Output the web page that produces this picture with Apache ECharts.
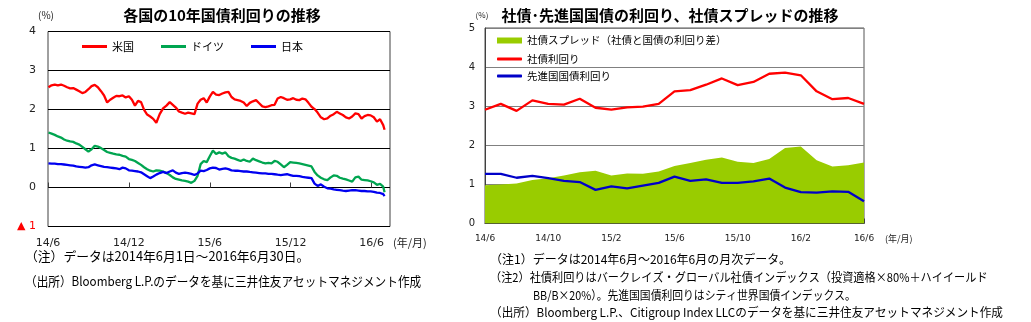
<!DOCTYPE html>
<html>
<head>
<meta charset="utf-8">
<script src="https://cdn.jsdelivr.net/npm/echarts@6/dist/echarts.min.js"></script>
<style>
html,body{margin:0;padding:0;background:#fff;}
#c{width:1031px;height:322px;}
</style>
</head>
<body>
<div id="c"></div>
<script>
// ---- Left panel: 10-year government bond yields, weekly closes (%) ----
const firstWeek = '2014-06-02';   // weekly observations every 7 days
const lastDay = '2016-06-30';     // final observation
const leftTicks = ['14/6', '14/12', '15/6', '15/12', '16/6'];
const seriesNamesLeft = ['米国', 'ドイツ', '日本'];

const usYield = [
  2.57, 2.62, 2.64, 2.62, 2.64, 2.61, 2.57, 2.54, 2.55, 2.51,
  2.47, 2.42, 2.45, 2.52, 2.60, 2.63, 2.57, 2.47, 2.36, 2.18,
  2.25, 2.30, 2.35, 2.34, 2.36, 2.31, 2.34, 2.25, 2.10, 2.22,
  2.19, 1.99, 1.87, 1.82, 1.76, 1.66, 1.88, 2.03, 2.10, 2.19,
  2.12, 2.05, 1.95, 1.92, 1.89, 1.92, 1.90, 1.88, 2.15, 2.25,
  2.29, 2.18, 2.33, 2.45, 2.38, 2.37, 2.41, 2.44, 2.45, 2.32,
  2.26, 2.24, 2.22, 2.18, 2.09, 2.17, 2.21, 2.24, 2.16, 2.08,
  2.06, 2.08, 2.11, 2.12, 2.28, 2.32, 2.29, 2.25, 2.26, 2.29,
  2.25, 2.24, 2.28, 2.26, 2.17, 2.07, 2.01, 1.92, 1.80, 1.75,
  1.77, 1.84, 1.88, 1.94, 1.90, 1.86, 1.80, 1.77, 1.82, 1.90,
  1.88, 1.77, 1.83, 1.86, 1.85, 1.80, 1.69, 1.75, 1.60,
  1.48
];
const deYield = [
  1.41, 1.38, 1.35, 1.31, 1.28, 1.23, 1.20, 1.18, 1.17, 1.13,
  1.10, 1.04, 0.98, 0.92, 0.98, 1.07, 1.05, 1.01, 0.96, 0.91,
  0.89, 0.87, 0.85, 0.84, 0.81, 0.79, 0.73, 0.71, 0.68, 0.63,
  0.58, 0.52, 0.47, 0.43, 0.41, 0.44, 0.43, 0.41, 0.37, 0.32,
  0.26, 0.22, 0.20, 0.18, 0.17, 0.15, 0.12, 0.17, 0.30, 0.60,
  0.68, 0.65, 0.80, 0.95, 0.86, 0.90, 0.87, 0.90, 0.80, 0.76,
  0.74, 0.71, 0.68, 0.72, 0.68, 0.66, 0.74, 0.70, 0.67, 0.64,
  0.62, 0.63, 0.62, 0.68, 0.66, 0.59, 0.52, 0.58, 0.65, 0.64,
  0.63, 0.62, 0.60, 0.58, 0.56, 0.54, 0.40, 0.31, 0.25, 0.21,
  0.19, 0.26, 0.31, 0.30, 0.25, 0.23, 0.21, 0.18, 0.15, 0.26,
  0.28, 0.20, 0.19, 0.18, 0.16, 0.13, 0.07, 0.09, 0.02,
  -0.12
];
const jpYield = [
  0.62, 0.61, 0.61, 0.60, 0.60, 0.59, 0.58, 0.57, 0.56, 0.54,
  0.53, 0.52, 0.51, 0.52, 0.57, 0.59, 0.57, 0.55, 0.53, 0.52,
  0.51, 0.50, 0.49, 0.47, 0.51, 0.49, 0.44, 0.43, 0.42, 0.41,
  0.39, 0.34, 0.29, 0.24, 0.28, 0.33, 0.37, 0.40, 0.37, 0.41,
  0.44, 0.38, 0.35, 0.37, 0.38, 0.37, 0.35, 0.32, 0.36, 0.43,
  0.42, 0.45, 0.49, 0.51, 0.50, 0.46, 0.48, 0.49, 0.47, 0.44,
  0.43, 0.43, 0.42, 0.41, 0.41, 0.40, 0.39, 0.38, 0.37, 0.36,
  0.36, 0.35, 0.35, 0.34, 0.33, 0.32, 0.33, 0.34, 0.32, 0.30,
  0.30, 0.29, 0.27, 0.26, 0.25, 0.24, 0.10, 0.04, 0.08, 0.02,
  -0.02, -0.03, -0.05, -0.06, -0.07, -0.08, -0.09, -0.08, -0.07, -0.07,
  -0.08, -0.09, -0.09, -0.10, -0.10, -0.11, -0.13, -0.14, -0.17,
  -0.22
];

// ---- Right panel: monthly corporate / developed-government yields and spread (%) ----
const months = [
  '14/6', '14/7', '14/8', '14/9', '14/10', '14/11', '14/12', '15/1', '15/2', '15/3',
  '15/4', '15/5', '15/6', '15/7', '15/8', '15/9', '15/10', '15/11', '15/12', '16/1',
  '16/2', '16/3', '16/4', '16/5', '16/6'
];
const corpYield = [
  2.91, 3.06, 2.88, 3.15, 3.06, 3.04, 3.19, 2.96, 2.91, 2.97,
  2.99, 3.06, 3.38, 3.41, 3.55, 3.71, 3.54, 3.62, 3.83, 3.86,
  3.79, 3.38, 3.18, 3.21, 3.06
];
const govYield = [
  1.27, 1.27, 1.17, 1.22, 1.16, 1.09, 1.06, 0.86, 0.95, 0.90,
  0.97, 1.04, 1.20, 1.09, 1.13, 1.04, 1.04, 1.08, 1.15, 0.92,
  0.80, 0.79, 0.82, 0.81, 0.57
];
const corpSpread = [
  0.98, 1.00, 1.02, 1.11, 1.16, 1.23, 1.31, 1.35, 1.23, 1.28,
  1.27, 1.33, 1.47, 1.55, 1.63, 1.69, 1.58, 1.55, 1.65, 1.93,
  1.97, 1.62, 1.46, 1.49, 1.56
];
const seriesNamesRight = ['社債スプレッド（社債と国債の利回り差）', '社債利回り', '先進国国債利回り'];

// ---- helpers ----
// position of a date on the left x axis, in months since 2014-06-01
function monthPos(iso) {
  const [y, m, d] = iso.split('-').map(Number);
  const dim = new Date(Date.UTC(y, m, 0)).getUTCDate();
  return (y - 2014) * 12 + (m - 6) + (d - 1) / dim;
}
function observationDates(count) {
  const start = Date.parse(firstWeek + 'T00:00:00Z');
  const out = [];
  for (let k = 0; k < count - 1; k++) {
    out.push(new Date(start + k * 7 * 86400000).toISOString().slice(0, 10));
  }
  out.push(lastDay);
  return out;
}
const obsDates = observationDates(usYield.length);
const pairs = arr => obsDates.map((d, i) => [monthPos(d), arr[i]]);

const jpFont = '"Noto Sans CJK JP", sans-serif';
const numFont = '"DejaVu Sans", sans-serif';

const chart = echarts.init(document.getElementById('c'), null, { renderer: 'canvas' });

const noteText = (text, x, y, size, sx) => ({
  type: 'text', x: x, y: y, scaleX: sx, silent: true,
  style: { text: text, font: size + 'px ' + jpFont, fill: '#000', textAlign: 'left', textVerticalAlign: 'middle' }
});

const option = {
  animation: false,
  backgroundColor: '#fff',
  grid: [
    { left: 48, top: 31.5, width: 342, height: 195, show: true, borderColor: '#404040', borderWidth: 1, backgroundColor: 'transparent' },
    { left: 485, top: 28, width: 379, height: 195.5, show: true, borderColor: '#555', borderWidth: 1, backgroundColor: 'transparent' }
  ],
  xAxis: [
    {
      gridIndex: 0, type: 'value', min: 0, max: 25.37, interval: 6,
      axisLine: { show: false },
      splitLine: { show: false },
      axisTick: { show: true, inside: true, length: 5, lineStyle: { color: '#404040' } },
      axisLabel: {
        margin: 11, fontSize: 11, fontFamily: numFont, color: '#222',
        showMaxLabel: false,
        formatter: v => (Math.abs(v % 6) < 1e-6 && v / 6 < leftTicks.length) ? leftTicks[Math.round(v / 6)] : ''
      }
    },
    {
      gridIndex: 1, type: 'category', data: months, boundaryGap: false,
      axisLine: { show: true, lineStyle: { color: '#404040' } },
      axisTick: { show: true, inside: true, interval: 3, length: 5, lineStyle: { color: '#404040' } },
      axisLabel: { interval: 3, margin: 11, fontSize: 9, fontFamily: numFont, color: '#222' },
      splitLine: { show: false }
    }
  ],
  yAxis: [
    {
      gridIndex: 0, type: 'value', min: -1, max: 4, interval: 1,
      axisLine: { show: false }, axisTick: { show: false },
      splitLine: { show: true, lineStyle: { color: '#000', width: 1 } },
      axisLabel: {
        margin: 12, fontSize: 11, fontFamily: numFont, color: '#222',
        formatter: v => v < 0 ? '{neg|▲ ' + (-v) + '}' : String(v),
        rich: { neg: { color: '#FF0000', fontSize: 11, fontFamily: numFont } }
      }
    },
    {
      gridIndex: 1, type: 'value', min: 0, max: 5, interval: 1,
      axisLine: { show: true, lineStyle: { color: '#404040' } }, axisTick: { show: false },
      splitLine: { show: true, lineStyle: { color: '#808080', width: 1 } },
      axisLabel: { margin: 10, fontSize: 10, fontFamily: numFont, color: '#222' }
    }
  ],
  legend: [
    {
      data: seriesNamesLeft, left: 82, top: 39.5, padding: 0, itemGap: 27,
      itemWidth: 25, itemHeight: 3, icon: 'rect', selectedMode: false,
      textStyle: { fontFamily: jpFont, fontSize: 11, color: '#000', lineHeight: 14 }
    },
    {
      data: [seriesNamesRight[0]], left: 497, top: 33.5, padding: 0,
      itemWidth: 25, itemHeight: 6, icon: 'rect', selectedMode: false,
      textStyle: { fontFamily: jpFont, fontSize: 10.5, color: '#000', lineHeight: 14 }
    },
    {
      data: [seriesNamesRight[1], seriesNamesRight[2]], orient: 'vertical', left: 497, top: 52, padding: 0, itemGap: 3,
      itemWidth: 25, itemHeight: 3, icon: 'roundRect', selectedMode: false,
      textStyle: { fontFamily: jpFont, fontSize: 10.5, color: '#000', lineHeight: 14 }
    }
  ],
  series: [
    {
      name: seriesNamesLeft[0], type: 'line', xAxisIndex: 0, yAxisIndex: 0, data: pairs(usYield),
      symbol: 'none', color: '#FF0000', lineStyle: { width: 2.3, color: '#FF0000' }
    },
    {
      name: seriesNamesLeft[1], type: 'line', xAxisIndex: 0, yAxisIndex: 0, data: pairs(deYield),
      symbol: 'none', color: '#00A550', lineStyle: { width: 2.3, color: '#00A550' }
    },
    {
      name: seriesNamesLeft[2], type: 'line', xAxisIndex: 0, yAxisIndex: 0, data: pairs(jpYield),
      symbol: 'none', color: '#0000F0', lineStyle: { width: 2.3, color: '#0000F0' }
    },
    {
      name: seriesNamesRight[0], type: 'line', xAxisIndex: 1, yAxisIndex: 1, data: corpSpread,
      symbol: 'none', color: '#99CC00', itemStyle: { color: '#99CC00' },
      lineStyle: { width: 0, color: '#99CC00' }, areaStyle: { color: '#99CC00', opacity: 1 }
    },
    {
      name: seriesNamesRight[1], type: 'line', xAxisIndex: 1, yAxisIndex: 1, data: corpYield,
      symbol: 'none', color: '#FF0000', lineStyle: { width: 2.3, color: '#FF0000' }
    },
    {
      name: seriesNamesRight[2], type: 'line', xAxisIndex: 1, yAxisIndex: 1, data: govYield,
      symbol: 'none', color: '#0000C8', lineStyle: { width: 2.3, color: '#0000C8' }
    }
  ],
  graphic: [
    { type: 'text', x: 222, y: 15, silent: true, style: { text: '各国の10年国債利回りの推移', font: 'bold 15px ' + jpFont, fill: '#000', textAlign: 'center', textVerticalAlign: 'middle' } },
    { type: 'text', x: 46, y: 15, silent: true, style: { text: '(%)', font: '10px ' + jpFont, fill: '#222', textAlign: 'center', textVerticalAlign: 'middle' } },
    { type: 'text', x: 670, y: 15, silent: true, style: { text: '社債･先進国国債の利回り、社債スプレッドの推移', font: 'bold 15px ' + jpFont, fill: '#000', textAlign: 'center', textVerticalAlign: 'middle' } },
    { type: 'text', x: 482, y: 15, silent: true, style: { text: '(%)', font: '8px ' + jpFont, fill: '#222', textAlign: 'center', textVerticalAlign: 'middle' } },
    { type: 'text', x: 393, y: 243, silent: true, style: { text: '(年/月)', font: '11px ' + jpFont, fill: '#222', textAlign: 'left', textVerticalAlign: 'middle' } },
    { type: 'text', x: 885, y: 239, silent: true, style: { text: '(年/月)', font: '9px ' + jpFont, fill: '#222', textAlign: 'left', textVerticalAlign: 'middle' } },
    noteText('（注）データは2014年6月1日～2016年6月30日。', 25, 256, 12.8, 1),
    noteText('（出所）Bloomberg L.P.のデータを基に三井住友アセットマネジメント作成', 25, 281, 12.8, 0.91),
    noteText('（注1）データは2014年6月～2016年6月の月次データ。', 490, 259, 12, 1.0),
    noteText('（注2）社債利回りはバークレイズ・グローバル社債インデックス（投資適格×80%＋ハイイールド', 490, 277, 12, 0.93),
    noteText('BB/B×20%）。先進国国債利回りはシティ世界国債インデックス。', 533, 295, 12, 0.9),
    noteText('（出所）Bloomberg L.P.、Citigroup Index LLCのデータを基に三井住友アセットマネジメント作成', 490, 312, 12, 0.97)
  ]
};

chart.setOption(option);
</script>
</body>
</html>
